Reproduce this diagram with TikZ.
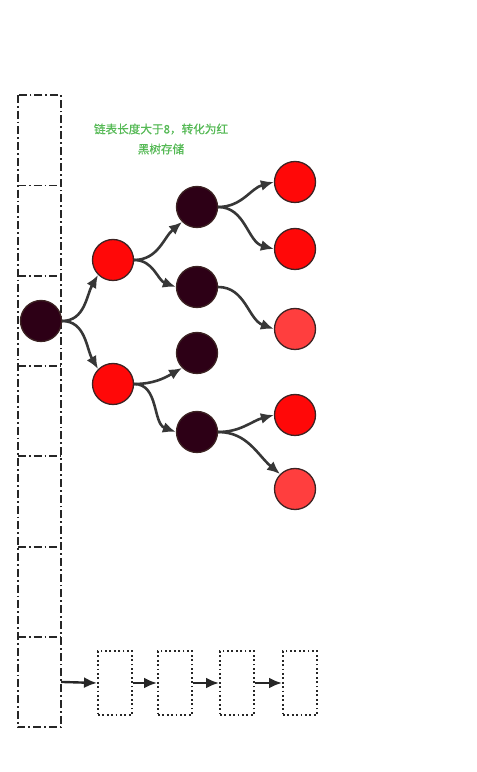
\documentclass[tikz,border=0pt]{standalone}
\usepackage{fontspec}
\newfontfamily\cjk[FakeBold=0.6]{Noto Sans CJK SC}
\usetikzlibrary{arrows.meta,positioning}
\definecolor{blknode}{RGB}{45,0,22}
\definecolor{rednode}{RGB}{255,8,8}
\definecolor{redlight}{RGB}{255,62,62}
\definecolor{rimcol}{RGB}{60,35,35}
\definecolor{edgecol}{RGB}{55,55,55}
\definecolor{notegreen}{RGB}{85,185,85}
\tikzset{
  slot/.style={minimum width=43pt,minimum height=90.3pt,inner sep=0pt},
  slotline/.style={draw=black!85,line width=1.8pt,
               dash pattern=on 8pt off 3pt on 1.8pt off 3pt},
  listbox/.style={draw=black!85,line width=2pt,minimum width=34pt,minimum height=64pt,
               inner sep=0pt,dash pattern=on 1.8pt off 2.6pt},
  blk/.style={circle,draw=rimcol,line width=1.3pt,fill=blknode,minimum size=41pt,inner sep=0pt},
  rd/.style={blk,fill=rednode},
  rdl/.style={blk,fill=redlight},
  link/.style={-{Latex[length=13pt,width=11pt]},draw=edgecol,line width=2.6pt},
  nxt/.style={-{Latex[length=13pt,width=11pt]},draw=black!85,line width=2.4pt},
}
\begin{document}
\begin{tikzpicture}[x=1pt,y=1pt]
  \useasboundingbox (0,0) rectangle (477,772);
  % the bucket array
  \foreach \i in {1,...,7}
    \node[slot] (cell\i) at (39.5,{677-45.15-90.3*(\i-1)}) {};
  \draw[slotline] (cell1.north west) rectangle (cell7.south east);
  \foreach \i in {1,...,6}
    \draw[slotline] (cell\i.south west) -- (cell\i.south east);
  % note
  \node[align=center,text=notegreen,font=\cjk\fontsize{11.6}{20}\selectfont] (note) at (161,633)
    {链表长度大于8，转化为红\\黑树存储};
  % the tree
  \node[blk] (root) at (41,451) {};
  \node[rd]  (ra) at (113,512) {};
  \node[rd]  (rb) at (113,388) {};
  \node[blk] (ba) at (197,565) {};
  \node[blk] (bb) at (197,485) {};
  \node[blk] (bc) at (197,419) {};
  \node[blk] (bd) at (197,340) {};
  \node[rd]  (r1) at (295,590) {};
  \node[rd]  (r2) at (295,523) {};
  \node[rdl] (r3) at (295,443) {};
  \node[rd]  (r4) at (295,357) {};
  \node[rdl] (r5) at (295,283) {};
  \draw[link] (root.east) to[out=0,in=240] (ra.south west);
  \draw[link] (root.east) to[out=0,in=120] (rb.north west);
  \draw[link] (ra.east) to[out=0,in=220] (ba.south west);
  \draw[link] (ra.east) to[out=0,in=160] (bb.west);
  \draw[link] (rb.east) to[out=0,in=210] (bc.south west);
  \draw[link] (rb.east) to[out=0,in=160] (bd.west);
  \draw[link] (ba.east) to[out=0,in=195] (r1.west);
  \draw[link] (ba.east) to[out=0,in=165] (r2.west);
  \draw[link] (bb.east) to[out=0,in=160] (r3.west);
  \draw[link] (bd.east) to[out=0,in=195] (r4.west);
  \draw[link] (bd.east) to[out=0,in=140] (r5.north west);
  % the short list
  \node[listbox] (l1) at (115,89) {};
  \node[listbox] (l2) at (175,89) {};
  \node[listbox] (l3) at (237,89) {};
  \node[listbox] (l4) at (300,89) {};
  \draw[nxt] (cell7.east) -- (l1.west);
  \draw[nxt] (l1.east) -- (l2.west);
  \draw[nxt] (l2.east) -- (l3.west);
  \draw[nxt] (l3.east) -- (l4.west);
\end{tikzpicture}
\end{document}
